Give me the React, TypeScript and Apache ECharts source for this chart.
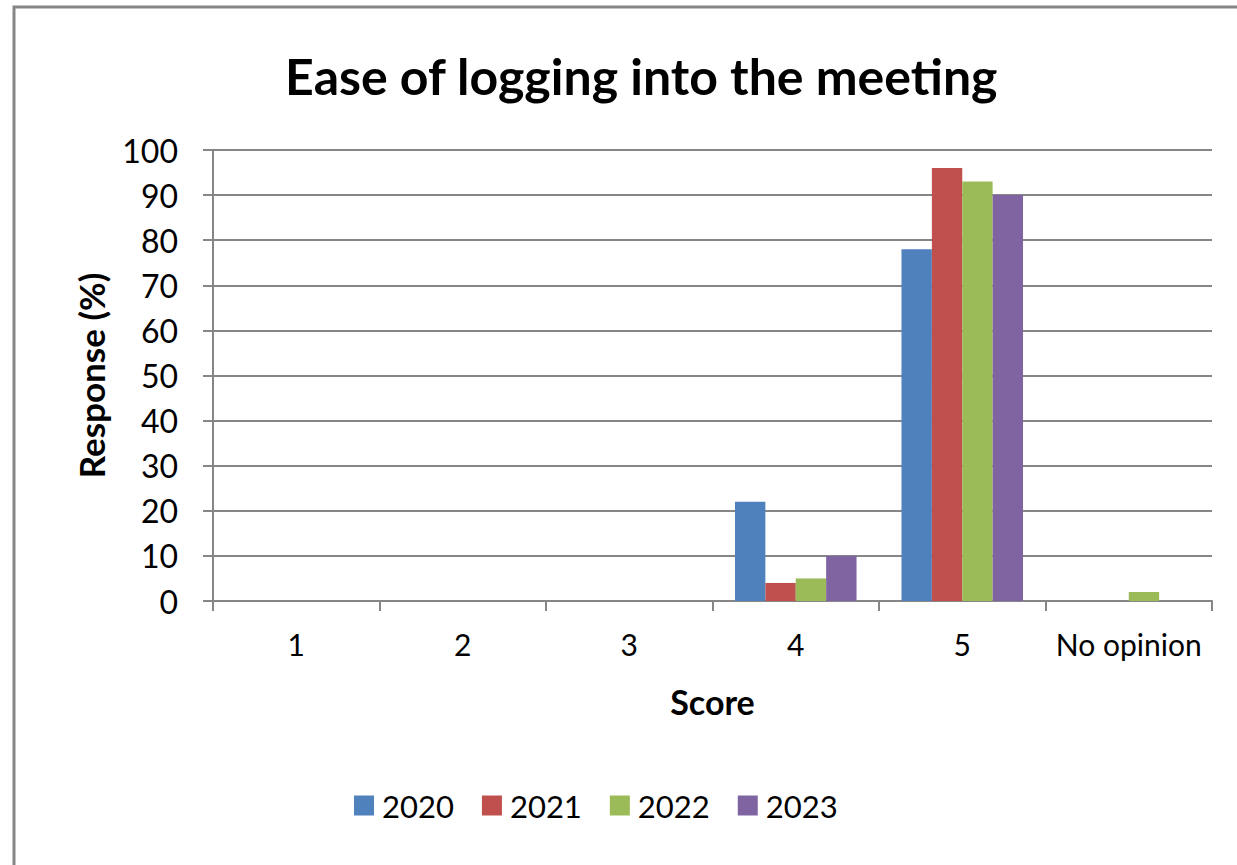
import React, { useEffect, useRef } from "react";
import * as echarts from "echarts";

const categories = ["1", "2", "3", "4", "5", "No opinion"];
const years = ["2020", "2021", "2022", "2023"];
const values2020 = [0, 0, 0, 22, 78, 0];
const values2021 = [0, 0, 0, 4, 96, 0];
const values2022 = [0, 0, 0, 5, 93, 2];
const values2023 = [0, 0, 0, 10, 90, 0];
const colors = ["#4F81BD", "#C0504D", "#9BBB59", "#8064A2"];
const yTicks = { min: 0, max: 100, interval: 10 };

const FONT = "Lato, 'Open Sans', sans-serif";

export default function App() {
  const ref = useRef<HTMLDivElement>(null);
  useEffect(() => {
    if (!ref.current) return;
    const chart = echarts.init(ref.current, undefined, { renderer: "svg" });
    const seriesData = [values2020, values2021, values2022, values2023];
    chart.setOption({
      animation: false,
      backgroundColor: "#ffffff",
      color: colors,
      textStyle: { fontFamily: FONT },
      title: {
        text: "Ease of logging into the meeting",
        left: 280,
        top: 46,
        textStyle: { fontSize: 50, fontWeight: "bold", color: "#000", fontFamily: FONT },
      },
      graphic: [
        {
          type: "rect",
          shape: { x: 14, y: 7, width: 1400, height: 1000 },
          style: { fill: "none", stroke: "#868686", lineWidth: 3 },
          silent: true,
          z: 100,
        },
      ],
      grid: { left: 213, right: 25, top: 150, bottom: 264, containLabel: false },
      legend: {
        top: 785,
        left: 349,
        itemWidth: 20,
        itemHeight: 20,
        itemGap: 28,
        icon: "rect",
        textStyle: { fontSize: 31, color: "#000", fontFamily: FONT, padding: [0, 0, 0, 3] },
        data: years,
      },
      xAxis: {
        type: "category",
        data: categories,
        name: "Score",
        nameLocation: "middle",
        nameGap: 83,
        nameTextStyle: { fontSize: 34, fontWeight: "bold", color: "#000", fontFamily: FONT },
        axisLine: { lineStyle: { color: "#868686", width: 2 } },
        axisTick: { show: true, interval: 0, length: 10, lineStyle: { color: "#868686", width: 2 } },
        axisLabel: { interval: 0, fontSize: 30, color: "#000", margin: 28, fontFamily: FONT },
      },
      yAxis: {
        type: "value",
        min: yTicks.min,
        max: yTicks.max,
        interval: yTicks.interval,
        name: "Response (%)",
        nameLocation: "middle",
        nameGap: 105,
        nameRotate: 90,
        nameTextStyle: { fontSize: 35, fontWeight: "bold", color: "#000", fontFamily: FONT },
        axisLine: { show: true, lineStyle: { color: "#868686", width: 2 } },
        axisTick: { show: true, length: 10, lineStyle: { color: "#868686", width: 2 } },
        axisLabel: { fontSize: 32, color: "#000", margin: 35, fontFamily: FONT },
        splitLine: { show: true, lineStyle: { color: "#868686", width: 2 } },
      },
      series: years.map((y, i) => ({
        name: y,
        type: "bar",
        data: seriesData[i],
        barGap: "0%",
        barCategoryGap: "27%",
        itemStyle: { color: colors[i] },
      })),
    });
    return () => chart.dispose();
  }, []);
  return (
    <div
      ref={ref}
      style={{ position: "fixed", left: 0, top: 0, width: 1237, height: 865 }}
    />
  );
}
